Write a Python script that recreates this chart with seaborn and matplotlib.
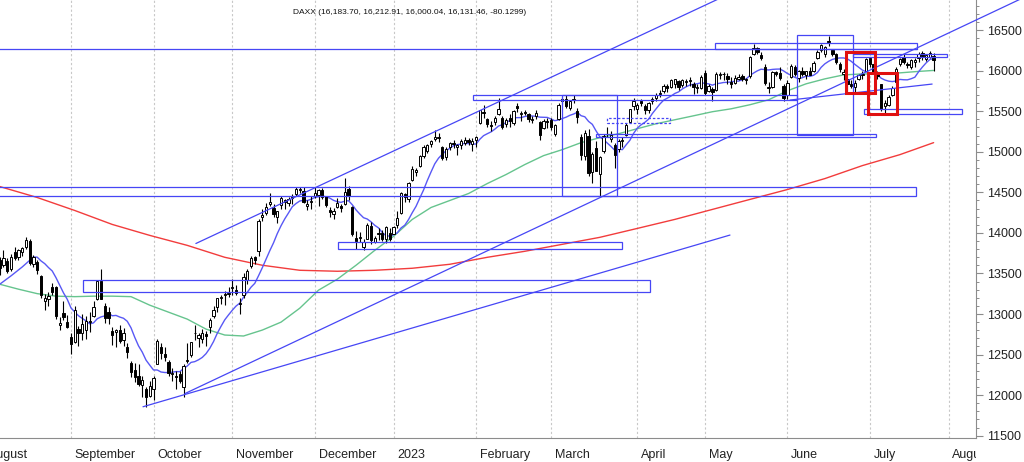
import numpy as np
import pandas as pd
import seaborn as sns
import matplotlib
matplotlib.use("Agg")
import matplotlib.pyplot as plt
from matplotlib import font_manager
from matplotlib.patches import Rectangle
from matplotlib.transforms import Bbox, TransformedBbox

## Data

# trading days on the chart (XETRA calendar)
first_day = '2022-08-05'
last_day = '2023-07-26'
holidays = ['2022-12-26', '2023-04-07', '2023-04-10', '2023-05-01']

# daily candles, one row per month
opens = [
    13660, 13600, 13650, 13560, 13760, 13700, 13760, 13830, 13900, 13620, 13640, 13470, 13160, 13180, 13330, 13330, 12870, 13010, 12900,
    12720, 12650, 12820, 12760, 12800, 12900, 12980, 13180, 13410, 13100, 13020, 12790, 12780, 12800, 12680, 12590, 12400, 12310, 12240, 12120, 12080, 11990,
    12080, 12390, 12590, 12510, 12410, 12260, 12230, 12260, 12100, 12420, 12500, 12760, 12710, 12690, 12750, 12840, 12980, 13090, 13200, 13230, 13250,
    13320, 13300, 13120, 13240, 13420, 13590, 13700, 13780, 14200, 14250, 14360, 14310, 14200, 14340, 14400, 14370, 14440, 14480, 14530, 14520, 14330, 14380,
    14460, 14470, 14530, 14450, 14280, 14230, 14320, 14330, 14350, 14540, 14320, 13940, 13940, 13830, 13930, 14080, 13890, 13990, 14000, 13920, 14000,
    13990, 14100, 14250, 14480, 14420, 14650, 14750, 14830, 14950, 15010, 15100, 15160, 15170, 15060, 14930, 15060, 15110, 15060, 15080, 15110, 15150, 15090,
    15140, 15360, 15480, 15400, 15330, 15370, 15470, 15420, 15340, 15410, 15360, 15560, 15460, 15480, 15460, 15390, 15440, 15370, 15290, 15380,
    15390, 15220, 15400, 15620, 15650, 15540, 15650, 15500, 15180, 14950, 15200, 14750, 15040, 14720, 15010, 15220, 15160, 15080, 15030, 15130, 15210, 15370, 15560,
    15530, 15620, 15560, 15510, 15630, 15660, 15710, 15750, 15810, 15800, 15830, 15870, 15820, 15860, 15880, 15830, 15780, 15790,
    15970, 15750, 15770, 15760, 15940, 15960, 15930, 15860, 15850, 15900, 15930, 15880, 15930, 16200, 16280, 16190, 16050, 15790, 15800, 15980, 15970, 15810,
    15700, 15920, 16040, 15910, 15990, 15950, 16000, 15990, 16150, 16250, 16210, 16360, 16250, 16200, 16080, 15960, 15900, 15840, 15800, 15900, 15950, 16000,
    16150, 16080, 15960, 15830, 15560, 15580, 15700, 15860, 16080, 16170, 16080, 16050, 16110, 16150, 16220, 16140, 16170, 16183.70,
]
highs = [
    13700, 13795, 13690, 13740, 13820, 13800, 13830, 13950, 13920, 13730, 13660, 13480, 13250, 13270, 13380, 13350, 12960, 13160, 12990,
    12760, 13100, 12850, 13000, 12970, 13020, 13160, 13420, 13560, 13130, 13090, 12840, 12820, 12860, 12830, 12640, 12420, 12400, 12380, 12230, 12100, 12180,
    12230, 12690, 12640, 12590, 12430, 12330, 12300, 12300, 12380, 12640, 12660, 12870, 12760, 12810, 12790, 12950, 13100, 13200, 13240, 13280, 13330,
    13430, 13360, 13200, 13510, 13560, 13720, 13720, 14170, 14300, 14370, 14490, 14350, 14270, 14460, 14420, 14440, 14480, 14560, 14570, 14560, 14410, 14460,
    14560, 14540, 14550, 14460, 14320, 14310, 14430, 14350, 14680, 14580, 14330, 14020, 14010, 13930, 14120, 14140, 13960, 14060, 14040, 14090, 14060,
    14090, 14270, 14500, 14490, 14630, 14830, 14800, 14960, 15080, 15100, 15150, 15270, 15230, 15070, 15060, 15120, 15150, 15100, 15160, 15180, 15170, 15170,
    15200, 15520, 15580, 15410, 15380, 15440, 15660, 15440, 15420, 15470, 15520, 15600, 15500, 15520, 15480, 15440, 15520, 15380, 15400, 15420,
    15420, 15340, 15600, 15680, 15700, 15640, 15700, 15540, 15220, 15270, 15280, 15000, 15130, 14950, 15220, 15300, 15260, 15110, 15160, 15180, 15350, 15530, 15660,
    15600, 15650, 15590, 15610, 15680, 15720, 15760, 15830, 15830, 15900, 15900, 15890, 15900, 15900, 15920, 15860, 15840, 15940,
    16010, 15830, 15800, 15980, 15980, 15980, 15970, 15920, 15940, 15960, 15960, 15910, 16180, 16330, 16290, 16230, 16080, 15860, 16000, 16000, 16040, 15830,
    15890, 16080, 16070, 16010, 16040, 16000, 16040, 16120, 16250, 16330, 16300, 16430, 16260, 16220, 16110, 16020, 15920, 15880, 15880, 15960, 15990, 16160,
    16170, 16100, 15990, 15840, 15640, 15700, 15810, 16050, 16160, 16200, 16110, 16140, 16160, 16230, 16240, 16210, 16240, 16212.91,
]
lows = [
    13480, 13580, 13500, 13530, 13660, 13670, 13720, 13800, 13600, 13580, 13490, 13200, 13050, 13100, 13240, 12940, 12800, 12930, 12830,
    12510, 12640, 12600, 12680, 12690, 12780, 12960, 13170, 13180, 12890, 12880, 12620, 12590, 12640, 12610, 12460, 12220, 12160, 12110, 11980, 11860, 11980,
    11940, 12390, 12440, 12420, 12240, 12170, 12080, 12150, 11975, 12400, 12470, 12680, 12590, 12640, 12600, 12770, 12950, 13030, 13120, 13110, 13210,
    13240, 13230, 13000, 13200, 13370, 13570, 13620, 13720, 14150, 14220, 14330, 14200, 14120, 14300, 14290, 14330, 14360, 14460, 14490, 14370, 14280, 14300,
    14430, 14330, 14420, 14320, 14200, 14170, 14310, 14260, 14340, 14410, 13960, 13800, 13890, 13790, 13930, 13860, 13870, 13910, 13900, 13880, 13900,
    13980, 14060, 14230, 14380, 14380, 14640, 14700, 14810, 14920, 14990, 15060, 15130, 15120, 14900, 14900, 15020, 15040, 14960, 15030, 15080, 15080, 15010,
    15060, 15340, 15420, 15300, 15260, 15330, 15450, 15280, 15310, 15300, 15330, 15490, 15380, 15450, 15370, 15350, 15400, 15140, 15280, 15290,
    15270, 15200, 15390, 15590, 15540, 15520, 15600, 15350, 14900, 14900, 14700, 14620, 14760, 14460, 14990, 15180, 15120, 14800, 15000, 15060, 15190, 15360, 15520,
    15470, 15560, 15470, 15480, 15590, 15620, 15670, 15730, 15740, 15790, 15780, 15760, 15800, 15810, 15810, 15710, 15730, 15770,
    15700, 15740, 15630, 15750, 15900, 15890, 15840, 15780, 15830, 15890, 15870, 15830, 15910, 16190, 16200, 16130, 15820, 15720, 15780, 15930, 15880, 15630,
    15650, 15910, 15930, 15860, 15930, 15900, 15940, 15980, 16140, 16230, 16170, 16300, 16180, 16080, 15980, 15880, 15750, 15780, 15720, 15880, 15900, 15990,
    16050, 15970, 15900, 15500, 15460, 15560, 15690, 15830, 16060, 16080, 16030, 16020, 16050, 16100, 16130, 16120, 16150, 16000.04,
]
closes = [
    13573, 13687, 13535, 13700, 13694, 13795, 13816, 13910, 13626, 13697, 13544, 13230, 13194, 13220, 13271, 12971, 12892, 12961, 12835,
    12630, 13050, 12761, 12871, 12916, 12904, 13088, 13402, 13189, 12956, 12957, 12741, 12803, 12671, 12767, 12531, 12284, 12228, 12140, 12183, 11976, 12114,
    12209, 12671, 12517, 12471, 12273, 12272, 12220, 12172, 12355, 12438, 12649, 12765, 12741, 12767, 12731, 12931, 13053, 13195, 13211, 13243, 13253,
    13338, 13257, 13130, 13460, 13533, 13688, 13666, 14146, 14224, 14313, 14379, 14234, 14266, 14431, 14380, 14422, 14428, 14540, 14541, 14383, 14355, 14397,
    14490, 14529, 14447, 14343, 14261, 14264, 14371, 14306, 14498, 14460, 13987, 13894, 13943, 13885, 14098, 13914, 13941, 13995, 13926, 14071, 13924,
    14069, 14181, 14490, 14436, 14610, 14792, 14775, 14948, 15058, 15087, 15134, 15187, 15181, 14920, 15033, 15103, 15094, 15081, 15132, 15150, 15126, 15128,
    15181, 15509, 15476, 15345, 15320, 15412, 15523, 15308, 15397, 15381, 15506, 15534, 15482, 15477, 15398, 15400, 15476, 15210, 15381, 15365,
    15305, 15328, 15578, 15654, 15559, 15631, 15633, 15428, 14959, 15233, 14735, 14967, 14768, 14933, 15195, 15216, 15210, 14957, 15128, 15142, 15329, 15522, 15629,
    15581, 15603, 15520, 15597, 15655, 15703, 15729, 15808, 15789, 15883, 15896, 15795, 15882, 15863, 15872, 15796, 15800, 15922,
    15726, 15815, 15734, 15961, 15952, 15955, 15896, 15834, 15914, 15917, 15897, 15898, 16163, 16275, 16224, 16152, 15842, 15793, 15984, 15952, 15909, 15664,
    15853, 16051, 15964, 15992, 15960, 15989, 15949, 16098, 16231, 16310, 16290, 16358, 16201, 16111, 16023, 15988, 15830, 15813, 15846, 15949, 15946, 16148,
    16081, 15988, 15937, 15529, 15603, 15673, 15790, 16024, 16141, 16105, 16068, 16126, 16125, 16204, 16177, 16190, 16211, 16131.46,
]

# 10 day average: its first points lie before the 10th candle
blue_head_pos = [0, 3, 6]
blue_head = [13367, 13470, 13580]

# 50 day average (green), read every 5th candle
green_pos = list(range(0, 250, 5)) + [249]
green_ma = [13367, 13306, 13251, 13220, 13214, 13220, 13220, 13214, 13109, 13023,
            12937, 12814, 12741, 12729, 12802, 12900, 13072, 13294, 13429, 13601,
            13785, 13957, 14166, 14313, 14399, 14485, 14608, 14719, 14842, 14952,
            15026, 15112, 15173, 15222, 15284, 15345, 15394, 15443, 15493, 15529,
            15579, 15640, 15751, 15837, 15898, 15947, 15959, 15959, 15972, 15990, 16002]

# 200 day average (red), read every 10th candle
red_pos = list(range(0, 250, 10)) + [249]
red_ma = [14571, 14436, 14276, 14104, 13969, 13846, 13699, 13601, 13539, 13527,
          13539, 13564, 13613, 13699, 13773, 13859, 13945, 14055, 14166, 14289,
          14412, 14534, 14669, 14829, 14964, 15112]

# drawn zones: (first candle, last candle, low, high)
blue_boxes = [
    (-2, 244.3, 14460, 14571),
    (22.2, 173.4, 13267, 13415),
    (90.2, 165.9, 13805, 13883),
    (126.2, 212.6, 15637, 15705),
    (149.9, 164.6, 14454, 15699),
    (159.0, 233.7, 15177, 15224),
    (190.7, 244.6, 16262, 16336),
    (212.6, 227.5, 15206, 16438),
    (227.5, 252.6, 16171, 16204),
    (230.5, 256.6, 15461, 15523),
]
dotted_box = (161.9, 178.7, 15357, 15419)
red_boxes = [
    (225.7, 233.4, 15720, 16225),
    (231.5, 239.3, 15461, 15974),
]
# trend lines: (x0, y0, x1, y1)
trend_lines = [
    (-2, 16262, 244.6, 16262),
    (52.3, 13869, 200.0, 17064),
    (49.4, 12020, 273.0, 16900),
    (38.2, 11857, 194.7, 13973),
    (210.7, 15637, 248.6, 15834),
]

month_starts = ['2022-08-01', '2022-09-01', '2022-10-01', '2022-11-01', '2022-12-01', '2023-01-01',
                '2023-02-01', '2023-03-01', '2023-04-01', '2023-05-01', '2023-06-01', '2023-07-01', '2023-08-01']
month_names = ['August', 'September', 'October', 'November', 'December', '2023',
               'February', 'March', 'April', 'May', 'June', 'July', 'August']

title = 'DAXX (16,183.70, 16,212.91, 16,000.04, 16,131.46, -80.1299)'


## Prep DataFrame
days = pd.bdate_range(first_day, last_day)
days = days[~days.isin(pd.to_datetime(holidays))]
df = pd.DataFrame({'date': days, 'open': opens, 'high': highs, 'low': lows, 'close': closes})
df['x'] = np.arange(len(df))
df['ma10'] = df['close'].rolling(10).mean()

hol = np.array(holidays, dtype='datetime64[D]')
start = np.datetime64(first_day)
def day_pos(d):
    # number of trading days between the first candle and d
    d = np.datetime64(pd.Timestamp(d).date())
    d = np.busday_offset(d, 0, roll='forward', holidays=hol)
    return int(np.busday_count(start, d, holidays=hol))

month_pos = [day_pos(m) for m in month_starts]
mondays = pd.date_range('2022-08-01', '2023-08-31', freq='W-MON')
week_pos = [day_pos(m) for m in mondays]
week_pos = [p for p in week_pos if p not in month_pos]

blue_df = pd.concat([pd.DataFrame({'x': blue_head_pos, 'ma': blue_head}),
                     df.loc[df['ma10'].notna(), ['x', 'ma10']].rename(columns={'ma10': 'ma'})])
green_df = pd.DataFrame({'x': green_pos, 'ma': green_ma})
red_df = pd.DataFrame({'x': red_pos, 'ma': red_ma})


## Plot
sns.set_style('white')
plt.rcParams['font.family'] = ['Liberation Sans', 'DejaVu Sans']

fig = plt.figure(figsize=(10.24, 4.62), dpi=100)
ax = fig.add_axes([0, 24 / 462, 976 / 1024, 438 / 462])

# month grid
for p in month_pos:
    ax.axvline(p, color='#c8c8c8', lw=0.8, ls=(0, (2, 2)), zorder=0)

# moving averages
sns.lineplot(data=red_df, x='x', y='ma', ax=ax, color='#f23c3c', lw=1.0, sort=False, zorder=1)
sns.lineplot(data=green_df, x='x', y='ma', ax=ax, color='#66c48e', lw=1.0, sort=False, zorder=1)
sns.lineplot(data=blue_df, x='x', y='ma', ax=ax, color='#5858f5', lw=1.0, sort=False, zorder=1)

# candles
up = df['close'] >= df['open']
ax.vlines(df['x'], df['low'], df['high'], color='black', lw=0.8, zorder=2)
body = (df['close'] - df['open']).abs().clip(lower=8)
ax.bar(df['x'], body, bottom=df[['open', 'close']].min(axis=1), width=0.62,
       color=np.where(up, 'white', 'black'), edgecolor='black', linewidth=0.7, zorder=3)

# drawn zones and lines
line_col = '#4646f5'
for x0, x1, y0, y1 in blue_boxes:
    ax.add_patch(Rectangle((x0, y0), x1 - x0, y1 - y0, fill=False, ec=line_col, lw=0.9, zorder=4))
x0, x1, y0, y1 = dotted_box
ax.add_patch(Rectangle((x0, y0), x1 - x0, y1 - y0, fill=False, ec=line_col, lw=0.9, ls=(0, (2, 1.5)), zorder=4))
for x0, x1, y0, y1 in red_boxes:
    ax.add_patch(Rectangle((x0, y0), x1 - x0, y1 - y0, fill=False, ec='#e01010', lw=2.2, zorder=5))
trend = []
for x0, y0, x1, y1 in trend_lines:
    trend += ax.plot([x0, x1], [y0, y1], color=line_col, lw=0.9, zorder=4)
# the long uptrend line runs past the price axis in the original
trend[2].set_clip_on(False)

# limits last, so nothing above can widen them
ax.set_xlim(0.07, 260.3)
ax.set_ylim(11472, 16870)

# axes look
for s in ['left', 'top']:
    ax.spines[s].set_visible(False)
for s in ['right', 'bottom']:
    ax.spines[s].set_color('#8c8c8c')
    ax.spines[s].set_linewidth(0.8)

ax.yaxis.tick_right()
ax.set_yticks(np.arange(11500, 16501, 500))
ax.set_yticks(np.arange(11500, 16801, 100), minor=True)
ax.tick_params(axis='y', which='major', length=5, width=0.8, color='#8c8c8c', labelsize=9, pad=3, labelcolor='#222222')
ax.tick_params(axis='y', which='minor', length=2.5, width=0.7, color='#8c8c8c')

ax.set_xticks(month_pos)
ax.set_xticklabels([])
ax.set_xticks(week_pos, minor=True)
ax.tick_params(axis='x', which='major', length=17, width=0.8, color='#8c8c8c')
ax.tick_params(axis='x', which='minor', length=4, width=0.7, color='#8c8c8c')
ax.set_xlim(0.07, 260.3)
ax.set_xlabel('')
ax.set_ylabel('')

# month names, cut at the price axis like the original
clip = TransformedBbox(Bbox([[0, 0], [976 / 1024, 24 / 462]]), fig.transFigure)
for p, name in zip(month_pos, month_names):
    t = ax.text(p + 1.0, -0.039, name, transform=ax.get_xaxis_transform(), fontsize=9,
                ha='left', va='center', color='#222222')
    t.set_clip_box(clip)
    t.set_clip_on(True)

# title in a narrow face when there is one
installed = {f.name for f in font_manager.fontManager.ttflist}
if 'Liberation Sans Narrow' in installed:
    title_font, title_size = ['Liberation Sans Narrow', 'DejaVu Sans'], 7.3
else:
    title_font, title_size = ['Liberation Sans', 'DejaVu Sans'], 6.0
ax.text(410 / 976, 1 - 12 / 438, title, transform=ax.transAxes, ha='center', va='center',
        fontsize=title_size, family=title_font, color='#111111')

fig.savefig('out.png', dpi=100)
